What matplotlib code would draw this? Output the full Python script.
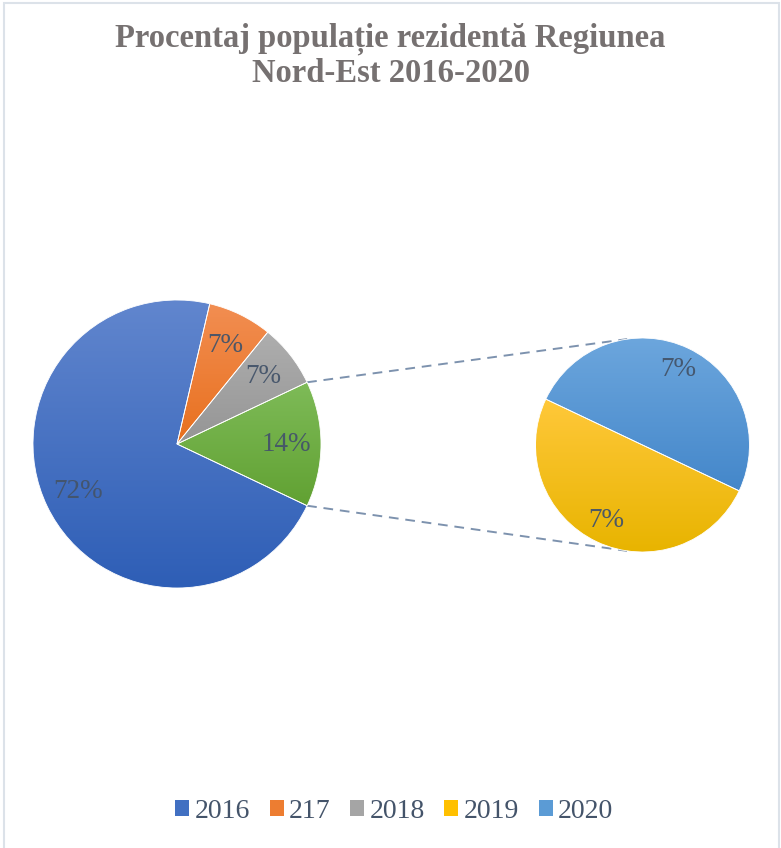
"""
Pie-of-pie: resident population share, Nord-Est region 2016-2020.
The last two years are split out into the small pie on the right.
"""

import matplotlib
matplotlib.use("Agg")
import matplotlib.pyplot as plt
import numpy as np
from matplotlib.colors import LinearSegmentedColormap
from matplotlib.patches import Patch, Rectangle

plt.rcParams["font.family"] = ["Liberation Serif", "DejaVu Serif"]

# data (percent of total)
years = ["2016", "217", "2018", "2019", "2020"]
share = [71.6, 7.2, 7.1, 7.05, 7.05]
n_main = 3  # first three stay in the main pie

# gradient fills (top colour, bottom colour) per year, plus flat legend colour
top_cols = ["#6186CE", "#F28E52", "#AEAEAE", "#FFC83A", "#6CA6DD"]
bot_cols = ["#2E5EB6", "#E8701E", "#959595", "#E8B400", "#4487CA"]
leg_cols = ["#4170C2", "#ED7D31", "#A5A5A5", "#FFC000", "#5B9BD5"]
other_top, other_bot = "#7EBB58", "#61A132"

TITLE = "Procentaj populație rezidentă Regiunea\nNord-Est 2016-2020"
TEXT_COL = "#44546A"

W, H = 781, 848


def shade(ax, wedges, tops, bots):
    # vertical gradient per wedge, clipped to the wedge shape
    for w, c0, c1 in zip(wedges, tops, bots):
        bb = w.get_path().get_extents()
        cmap = LinearSegmentedColormap.from_list("g", [c1, c0])
        grad = np.linspace(0, 1, 256).reshape(-1, 1)
        im = ax.imshow(grad, cmap=cmap, origin="lower", aspect="auto",
                       extent=(bb.x0, bb.x1, bb.y0, bb.y1), zorder=2,
                       interpolation="bilinear")
        im.set_clip_path(w)
        w.set_facecolor("none")
        w.set_zorder(3)


def main():
    fig = plt.figure(figsize=(W / 100, H / 100), dpi=100)
    ax = fig.add_axes([0, 0, 1, 1])

    main_vals = share[:n_main]
    second_vals = share[n_main:]
    other = sum(second_vals)
    half = other * 3.6 / 2  # half the angle of the "other" slice

    c1, r1 = (177, H - 444), 144
    c2, r2 = (642.5, H - 445), 107

    txt = dict(color=TEXT_COL, fontsize=19.5, alpha=0.95)
    wp = dict(edgecolor="white", linewidth=0.6)

    w1, _, _ = ax.pie(main_vals + [other], center=c1, radius=r1,
                      startangle=-half, counterclock=False,
                      autopct=lambda p: f"{p:.0f}%", pctdistance=0.76,
                      wedgeprops=wp, textprops=txt)
    shade(ax, w1, top_cols[:n_main] + [other_top], bot_cols[:n_main] + [other_bot])

    w2, _, _ = ax.pie(second_vals, center=c2, radius=r2,
                      startangle=-half, counterclock=False,
                      autopct=lambda p: f"{p * other / 100:.0f}%", pctdistance=0.78,
                      wedgeprops=wp, textprops=txt)
    shade(ax, w2, top_cols[n_main:], bot_cols[n_main:])

    for t in ax.texts:
        t.set_zorder(5)

    # connector lines from the "other" slice to the small pie
    a = np.radians(half)
    for sgn, ang in [(1, 98.2), (-1, 261.7)]:
        x0 = c1[0] + r1 * np.cos(a)
        y0 = c1[1] + sgn * r1 * np.sin(a)
        x1 = c2[0] + r2 * np.cos(np.radians(ang))
        y1 = c2[1] + r2 * np.sin(np.radians(ang))
        ax.plot([x0, x1], [y0, y1], color="#7D92AE", lw=1.4,
                ls=(0, (5, 3.5)), zorder=1)

    # chart border (bottom edge falls outside the image)
    ax.add_patch(Rectangle((3.5, -10), 775.5, H - 3 + 10, fill=False,
                           edgecolor="#DCE2E9", lw=1.5, zorder=0))

    ax.set_xlim(0, W)
    ax.set_ylim(0, H)
    ax.set_aspect("auto")
    ax.axis("off")

    fig.text(0.5, 1 - 56 / H, TITLE, ha="center", va="center",
             fontsize=23.5, fontweight="bold", color="#767171", linespacing=1.12)

    handles = [Patch(facecolor=c, edgecolor="none") for c in leg_cols]
    fig.legend(handles, years, loc="center", bbox_to_anchor=(0.505, 1 - 811 / H),
               ncol=5, frameon=False, fontsize=20, labelcolor=TEXT_COL,
               handlelength=0.5, handleheight=0.5, handletextpad=0.2,
               columnspacing=0.7)

    fig.savefig("out.png", dpi=100)
    plt.close(fig)


if __name__ == "__main__":
    main()
